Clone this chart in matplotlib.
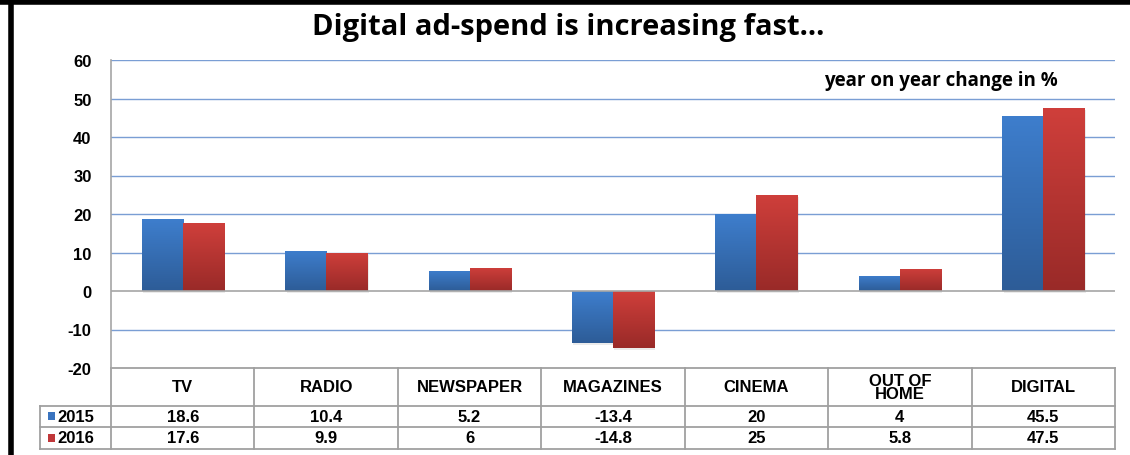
import numpy as np
import matplotlib
matplotlib.use("Agg")
import matplotlib.pyplot as plt
from matplotlib.colors import LinearSegmentedColormap
from matplotlib.transforms import blended_transform_factory
from matplotlib.lines import Line2D
from matplotlib.patches import Rectangle

categories = ["TV", "RADIO", "NEWSPAPER", "MAGAZINES", "CINEMA", "OUT OF\nHOME", "DIGITAL"]
years = ["2015", "2016"]
values_2015 = [18.6, 10.4, 5.2, -13.4, 20, 4, 45.5]
values_2016 = [17.6, 9.9, 6, -14.8, 25, 5.8, 47.5]
labels_2015 = ["18.6", "10.4", "5.2", "-13.4", "20", "4", "45.5"]
labels_2016 = ["17.6", "9.9", "6", "-14.8", "25", "5.8", "47.5"]
y_ticks = [60, 50, 40, 30, 20, 10, 0, -10, -20]

W, H = 1130, 456
fig = plt.figure(figsize=(W / 100, H / 100), dpi=100)
fig.patch.set_facecolor("white")

ax = fig.add_axes([111 / W, 1 - 369 / H, (1115 - 111) / W, (369 - 61) / H])

tick_font = dict(family="Liberation Sans", weight="bold")

x = np.arange(len(categories))
bw = 0.286

blue_cmap = LinearSegmentedColormap.from_list("b", ["#2d5c97", "#3e7ecd"])
red_cmap = LinearSegmentedColormap.from_list("r", ["#992a28", "#cf3f3b"])

bars1 = ax.bar(x - bw / 2, values_2015, bw, color="#3a74bf", zorder=3)
bars2 = ax.bar(x + bw / 2, values_2016, bw, color="#c0373a", zorder=3)

# gradient fill over each bar (light on top, dark at bottom)
grad = np.linspace(0, 1, 256).reshape(-1, 1)
for bars, cmap in [(bars1, blue_cmap), (bars2, red_cmap)]:
    for b in bars:
        x0, y0 = b.get_x(), b.get_y()
        w, h = b.get_width(), b.get_height()
        lo, hi = min(y0, y0 + h), max(y0, y0 + h)
        im = ax.imshow(grad, cmap=cmap, extent=[x0, x0 + w, lo, hi],
                       origin="lower", aspect="auto", zorder=4)
        im.set_clip_path(b)
        # soft shadow
        ax.add_patch(Rectangle((x0 + 0.01, lo - 0.5), w, hi - lo, facecolor="#000000",
                               alpha=0.08, edgecolor="none", zorder=2))

ax.set_xlim(-0.5, len(categories) - 0.5)
ax.set_ylim(-20, 60)
ax.set_yticks(y_ticks)
ax.set_yticklabels([str(t) for t in y_ticks], fontsize=12, **tick_font)
ax.set_xticks([])
ax.tick_params(axis="y", length=0, pad=14)

for t in y_ticks:
    if t == 0:
        ax.axhline(t, color="#a6a6a6", lw=1.2, zorder=5)
    elif t != -20:
        ax.axhline(t, color="#7a9ed4", lw=1.0, zorder=1)

for s in ["top", "right", "bottom"]:
    ax.spines[s].set_visible(False)
ax.spines["left"].set_color("#a6a6a6")
ax.spines["left"].set_linewidth(1.2)

ax.text(0.943, 0.935, "year on year change in %", transform=ax.transAxes,
        ha="right", va="center", fontsize=13.5, family="Open Sans", weight="bold",
        zorder=6)

fig.text(0.503, 1 - 28 / H, "Digital ad-spend is increasing fast...", ha="center",
         va="center", fontsize=21, family="Open Sans", weight="bold")

# data table below the axis
tr = blended_transform_factory(ax.transData, ax.transAxes)
ax_h = 369 - 61
y_head = 0.0
y_r1 = -(407 - 369) / ax_h
y_r2 = -(428 - 369) / ax_h
y_bot = -(450 - 369) / ax_h
x_left_col = -0.5 - (111 - 40) / ((1115 - 111) / len(categories))
x_right = len(categories) - 0.5
grid_c = "#a0a0a0"

def tline(xs, ys):
    ax.add_line(Line2D(xs, ys, transform=tr, color=grid_c, lw=1.3, clip_on=False))

tline([-0.5, x_right], [y_head, y_head])
tline([x_left_col, x_right], [y_r1, y_r1])
tline([x_left_col, x_right], [y_r2, y_r2])
tline([x_left_col, x_right], [y_bot, y_bot])
for i in range(len(categories) + 1):
    xb = i - 0.5
    tline([xb, xb], [y_head, y_bot])
tline([x_left_col, x_left_col], [y_r1, y_bot])

for i, cat in enumerate(categories):
    ax.text(i, (y_head + y_r1) / 2, cat, transform=tr, ha="center", va="center",
            fontsize=12, linespacing=0.85, **tick_font)
    ax.text(i, (y_r1 + y_r2) / 2, labels_2015[i], transform=tr, ha="center",
            va="center", fontsize=12, **tick_font)
    ax.text(i, (y_r2 + y_bot) / 2, labels_2016[i], transform=tr, ha="center",
            va="center", fontsize=12, **tick_font)

for yr, yc, col in [(years[0], (y_r1 + y_r2) / 2, "#3a74bf"), (years[1], (y_r2 + y_bot) / 2, "#c0373a")]:
    ax.text(x_left_col + 0.12, yc, yr, transform=tr, ha="left", va="center",
            fontsize=12, **tick_font)
    ax.add_patch(Rectangle((x_left_col + 0.055, yc - 0.012), 0.05, 0.025, transform=tr,
                           facecolor=col, edgecolor="none", clip_on=False))

# black frame on top and left
fig.add_artist(Line2D([0, 1], [1 - 3 / H, 1 - 3 / H], color="black", lw=4, transform=fig.transFigure))
fig.add_artist(Line2D([11 / W, 11 / W], [0, 1 - 3 / H], color="black", lw=4, transform=fig.transFigure))

fig.savefig("out.png", dpi=100)
